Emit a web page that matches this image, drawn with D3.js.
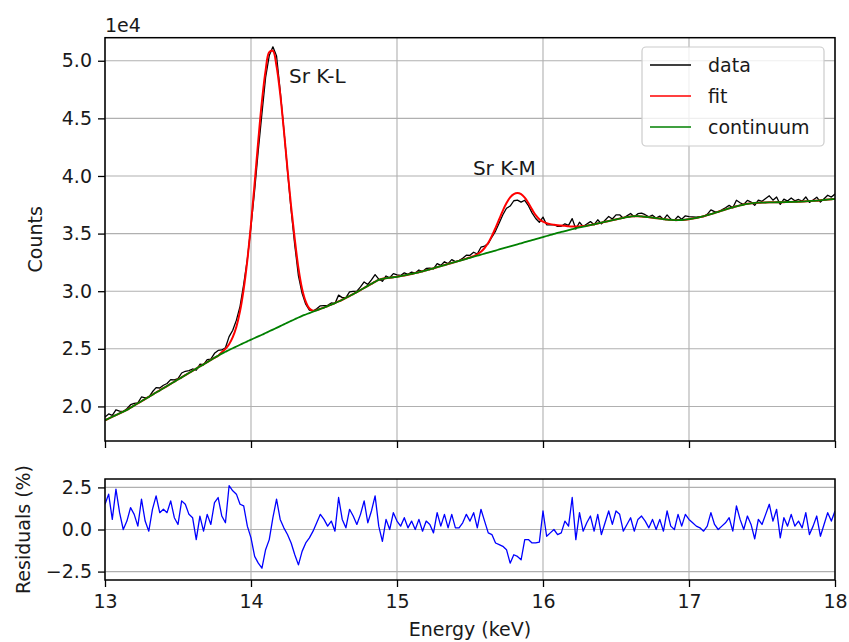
<!DOCTYPE html>
<html>
<head>
<meta charset="utf-8">
<script src="https://cdn.jsdelivr.net/npm/d3@7/dist/d3.min.js"></script>
<style>
  html, body { margin: 0; padding: 0; background: #fff; }
  svg { display: block; }
  text { font-family: "DejaVu Sans", sans-serif; fill: #1a1a1a; }
</style>
</head>
<body>
<svg id="chart" width="849" height="642"></svg>
<script>
// ---- Data (counts in units of 1e4; residuals in %) ----
const energyStart = 13.0;
const energyStep = 0.025;

const continuum = [
1.880,1.895,1.910,1.925,1.940,1.955,1.970,1.989,2.008,2.027,
2.045,2.064,2.083,2.102,2.121,2.139,2.158,2.177,2.196,2.215,
2.234,2.252,2.271,2.290,2.309,2.328,2.347,2.365,2.384,2.403,
2.422,2.440,2.458,2.474,2.490,2.505,2.520,2.535,2.550,2.565,
2.580,2.594,2.608,2.622,2.637,2.652,2.667,2.682,2.697,2.712,
2.727,2.742,2.757,2.772,2.786,2.798,2.810,2.822,2.834,2.846,
2.858,2.871,2.884,2.897,2.911,2.926,2.942,2.958,2.975,2.992,
3.010,3.028,3.046,3.064,3.082,3.098,3.108,3.113,3.117,3.121,
3.125,3.131,3.137,3.143,3.150,3.157,3.165,3.173,3.181,3.190,
3.199,3.208,3.218,3.227,3.236,3.245,3.254,3.263,3.272,3.281,
3.290,3.299,3.308,3.317,3.326,3.335,3.344,3.353,3.362,3.371,
3.380,3.389,3.398,3.407,3.416,3.425,3.434,3.443,3.452,3.461,
3.470,3.479,3.488,3.497,3.506,3.514,3.522,3.530,3.538,3.546,
3.553,3.560,3.567,3.574,3.581,3.588,3.595,3.602,3.609,3.616,
3.623,3.630,3.637,3.643,3.648,3.651,3.651,3.649,3.646,3.642,
3.638,3.634,3.630,3.626,3.622,3.619,3.617,3.617,3.618,3.621,
3.625,3.630,3.636,3.643,3.651,3.660,3.669,3.679,3.689,3.699,
3.709,3.719,3.728,3.737,3.745,3.752,3.758,3.763,3.766,3.768,
3.769,3.770,3.771,3.771,3.772,3.772,3.773,3.774,3.775,3.776,
3.777,3.778,3.780,3.782,3.784,3.786,3.789,3.792,3.795,3.798,
3.801
];

const fit = [
1.880,1.895,1.910,1.925,1.940,1.955,1.970,1.989,2.008,2.027,
2.045,2.064,2.083,2.102,2.121,2.139,2.158,2.177,2.196,2.215,
2.234,2.252,2.271,2.290,2.309,2.328,2.347,2.365,2.384,2.403,
2.422,2.440,2.470,2.499,2.540,2.601,2.692,2.827,3.018,3.270,
3.583,3.939,4.309,4.649,4.915,5.075,5.085,4.952,4.712,4.399,
4.058,3.732,3.450,3.200,3.020,2.910,2.850,2.830,2.836,2.847,
2.858,2.871,2.884,2.897,2.911,2.926,2.942,2.958,2.975,2.992,
3.010,3.028,3.046,3.064,3.082,3.098,3.108,3.113,3.117,3.121,
3.125,3.131,3.137,3.143,3.150,3.157,3.165,3.173,3.181,3.190,
3.199,3.208,3.218,3.227,3.236,3.245,3.254,3.263,3.273,3.283,
3.294,3.305,3.320,3.342,3.375,3.420,3.480,3.550,3.625,3.700,
3.765,3.815,3.843,3.852,3.842,3.812,3.765,3.710,3.660,3.625,
3.603,3.590,3.582,3.577,3.573,3.570,3.567,3.564,3.562,3.561,
3.562,3.565,3.569,3.575,3.581,3.588,3.595,3.602,3.609,3.616,
3.623,3.630,3.637,3.643,3.648,3.651,3.651,3.649,3.646,3.642,
3.638,3.634,3.630,3.626,3.622,3.619,3.617,3.617,3.618,3.621,
3.625,3.630,3.636,3.643,3.651,3.660,3.669,3.679,3.689,3.699,
3.709,3.719,3.728,3.737,3.745,3.752,3.758,3.763,3.766,3.768,
3.769,3.770,3.771,3.771,3.772,3.772,3.773,3.774,3.775,3.776,
3.777,3.778,3.780,3.782,3.784,3.786,3.789,3.792,3.795,3.798,
3.801
];

const counts = [
1.908,1.935,1.922,1.971,1.959,1.955,1.980,2.015,2.026,2.031,
2.082,2.074,2.081,2.127,2.163,2.160,2.184,2.199,2.233,2.231,
2.241,2.290,2.305,2.311,2.325,2.314,2.366,2.363,2.406,2.410,
2.461,2.486,2.490,2.509,2.606,2.661,2.749,2.869,3.060,3.277,
3.565,3.876,4.223,4.542,4.856,5.045,5.121,5.041,4.740,4.403,
4.046,3.702,3.398,3.133,2.981,2.887,2.836,2.827,2.847,2.873,
2.875,2.877,2.898,2.894,2.966,2.944,2.945,2.994,2.999,3.001,
3.037,3.080,3.058,3.098,3.144,3.104,3.086,3.132,3.117,3.152,
3.141,3.137,3.159,3.146,3.166,3.157,3.184,3.170,3.197,3.200,
3.193,3.240,3.224,3.256,3.239,3.274,3.257,3.266,3.286,3.313,
3.311,3.338,3.323,3.382,3.392,3.413,3.470,3.522,3.592,3.663,
3.720,3.739,3.785,3.790,3.773,3.789,3.742,3.680,3.631,3.598,
3.643,3.576,3.575,3.577,3.562,3.563,3.585,3.571,3.630,3.540,
3.598,3.561,3.583,3.604,3.577,3.620,3.584,3.616,3.649,3.627,
3.663,3.663,3.633,3.654,3.674,3.647,3.673,3.678,3.664,3.646,
3.660,3.634,3.652,3.622,3.662,3.626,3.617,3.650,3.625,3.654,
3.647,3.645,3.643,3.647,3.647,3.667,3.706,3.690,3.689,3.706,
3.724,3.745,3.724,3.789,3.768,3.752,3.788,3.774,3.745,3.791,
3.780,3.804,3.828,3.790,3.817,3.753,3.799,3.782,3.809,3.784,
3.796,3.782,3.818,3.771,3.792,3.816,3.774,3.803,3.833,3.817,
3.843
];

const residuals = [
1.5,2.1,0.6,2.4,1.0,0.0,0.5,1.3,0.9,0.2,
1.8,0.5,-0.1,1.2,2.0,1.0,1.2,1.0,1.7,0.7,
0.3,1.7,1.5,0.9,0.7,-0.6,0.8,-0.1,0.9,0.3,
1.6,1.9,0.8,0.4,2.6,2.3,2.1,1.5,1.4,0.2,
-0.5,-1.6,-2.0,-2.3,-1.2,-0.6,0.7,1.8,0.6,0.1,
-0.3,-0.8,-1.5,-2.1,-1.3,-0.8,-0.5,-0.1,0.4,0.9,
0.6,0.2,0.5,-0.1,1.9,0.6,0.1,1.2,0.8,0.3,
0.9,1.7,0.4,1.1,2.0,0.2,-0.7,0.6,0.0,1.0,
0.5,0.2,0.7,0.1,0.5,0.0,0.6,-0.1,0.5,0.3,
-0.2,1.0,0.2,0.9,0.1,0.9,0.1,0.1,0.4,0.9,
0.5,1.0,0.1,1.2,0.5,-0.2,-0.3,-0.8,-0.9,-1.0,
-1.2,-2.0,-1.5,-1.6,-1.8,-0.6,-0.6,-0.8,-0.8,-0.75,
1.1,-0.4,-0.2,0.0,-0.3,-0.2,0.5,0.2,1.9,-0.6,
1.0,-0.1,0.4,0.8,-0.1,0.9,-0.3,0.4,1.1,0.3,
1.1,0.9,-0.1,0.3,0.7,-0.1,0.6,0.8,0.5,0.1,
0.6,0.0,0.6,-0.1,1.1,0.2,0.0,0.9,0.2,0.9,
0.6,0.4,0.2,0.1,-0.1,0.2,1.0,0.3,0.0,0.2,
0.4,0.7,-0.1,1.4,0.6,0.0,0.8,0.3,-0.55,0.6,
0.3,0.9,1.5,0.5,1.2,-0.5,0.7,0.2,0.9,0.2,
0.5,0.1,1.0,-0.3,0.2,0.8,-0.4,0.3,1.0,0.5,
1.1
];

const xTicks = [13, 14, 15, 16, 17, 18];
const yTicksTop = [2.0, 2.5, 3.0, 3.5, 4.0, 4.5, 5.0];
const yTicksRes = [-2.5, 0.0, 2.5];
const legendLabels = ["data", "fit", "continuum"];
const peakLabels = [{ text: "Sr K-L", e: 14.26, v: 4.81 }, { text: "Sr K-M", e: 15.52, v: 4.01 }];

// ---- Layout ----
const svg = d3.select("#chart");
const L = 105, R = 835;
const topT = 37.7, topB = 441;
const resT = 479, resB = 580;
const fontSize = 19;

const energies = counts.map((_, i) => energyStart + i * energyStep);

const x = d3.scaleLinear().domain([13, 18]).range([L, R]);
const y = d3.scaleLinear().domain([1.70, 5.20]).range([topB, topT]);
const yr = d3.scaleLinear().domain([-3.0, 3.0]).range([resB, resT]);

const defs = svg.append("defs");
defs.append("clipPath").attr("id", "clipTop").append("rect")
  .attr("x", L).attr("y", topT).attr("width", R - L).attr("height", topB - topT);
defs.append("clipPath").attr("id", "clipRes").append("rect")
  .attr("x", L).attr("y", resT).attr("width", R - L).attr("height", resB - resT);

const gridColor = "#b0b0b0";

function drawGrid(yScale, yTicks, t, b) {
  const g = svg.append("g");
  g.selectAll(".gx").data(xTicks).join("line")
    .attr("x1", d => x(d)).attr("x2", d => x(d))
    .attr("y1", t).attr("y2", b)
    .attr("stroke", gridColor).attr("stroke-width", 1.1);
  g.selectAll(".gy").data(yTicks).join("line")
    .attr("x1", L).attr("x2", R)
    .attr("y1", d => yScale(d)).attr("y2", d => yScale(d))
    .attr("stroke", gridColor).attr("stroke-width", 1.1);
}
drawGrid(y, yTicksTop, topT, topB);
drawGrid(yr, yTicksRes, resT, resB);

// ---- Top panel lines ----
const lineOf = (arr, curve) => d3.line()
  .x((d, i) => x(energies[i]))
  .y(d => y(d))
  .curve(curve)(arr);

const gTop = svg.append("g").attr("clip-path", "url(#clipTop)");
gTop.append("path").attr("d", lineOf(counts, d3.curveLinear))
  .attr("fill", "none").attr("stroke", "#000").attr("stroke-width", 1.3)
  .attr("stroke-linejoin", "round");
gTop.append("path").attr("d", lineOf(fit, d3.curveCatmullRom.alpha(0.5)))
  .attr("fill", "none").attr("stroke", "#ff0000").attr("stroke-width", 2)
  .attr("stroke-linejoin", "round");
gTop.append("path").attr("d", lineOf(continuum, d3.curveMonotoneX))
  .attr("fill", "none").attr("stroke", "#008000").attr("stroke-width", 1.8)
  .attr("stroke-linejoin", "round");

// ---- Residual panel ----
const gRes = svg.append("g").attr("clip-path", "url(#clipRes)");
gRes.append("path")
  .attr("d", d3.line().x((d, i) => x(energies[i])).y(d => yr(d))(residuals))
  .attr("fill", "none").attr("stroke", "#0000ff").attr("stroke-width", 1.3)
  .attr("stroke-linejoin", "round");

// ---- Axes ----
function styleAxis(g) {
  g.selectAll("path.domain").remove();
  g.selectAll(".tick line").attr("stroke", "#000").attr("stroke-width", 1.3);
  g.selectAll(".tick text").attr("font-size", fontSize).attr("fill", "#1a1a1a")
    .attr("font-family", "DejaVu Sans, sans-serif");
}
const fmt1 = d => d3.format(".1f")(d).replace("-", "\u2212");

svg.append("g").attr("transform", `translate(${L},0)`)
  .call(d3.axisLeft(y).tickValues(yTicksTop).tickFormat(fmt1).tickSize(7).tickPadding(6))
  .call(styleAxis);
svg.append("g").attr("transform", `translate(0,${topB})`)
  .call(d3.axisBottom(x).tickValues(xTicks).tickFormat("").tickSize(7))
  .call(styleAxis);
svg.append("g").attr("transform", `translate(${L},0)`)
  .call(d3.axisLeft(yr).tickValues(yTicksRes).tickFormat(fmt1).tickSize(7).tickPadding(6))
  .call(styleAxis);
svg.append("g").attr("transform", `translate(0,${resB})`)
  .call(d3.axisBottom(x).tickValues(xTicks).tickFormat(d3.format("d")).tickSize(7).tickPadding(8))
  .call(styleAxis);

// spines
svg.append("rect").attr("x", L).attr("y", topT).attr("width", R - L).attr("height", topB - topT)
  .attr("fill", "none").attr("stroke", "#000").attr("stroke-width", 1.5);
svg.append("rect").attr("x", L).attr("y", resT).attr("width", R - L).attr("height", resB - resT)
  .attr("fill", "none").attr("stroke", "#000").attr("stroke-width", 1.5);

// ---- Labels ----
svg.append("text").attr("x", L).attr("y", 32).attr("font-size", fontSize).text("1e4");
svg.append("text")
  .attr("transform", `translate(42,${(topT + topB) / 2}) rotate(-90)`)
  .attr("text-anchor", "middle").attr("font-size", fontSize).text("Counts");
svg.append("text")
  .attr("transform", `translate(30,${(resT + resB) / 2}) rotate(-90)`)
  .attr("text-anchor", "middle").attr("font-size", fontSize).text("Residuals (%)");
svg.append("text").attr("x", (L + R) / 2).attr("y", 636)
  .attr("text-anchor", "middle").attr("font-size", fontSize).text("Energy (keV)");

// peak annotations
svg.selectAll(".peak").data(peakLabels).join("text")
  .attr("x", d => x(d.e)).attr("y", d => y(d.v))
  .attr("font-family", "Lato, 'Open Sans', sans-serif")
  .attr("font-size", 20).attr("fill", "#000")
  .text(d => d.text);

// ---- Legend ----
const lg = svg.append("g");
lg.append("rect").attr("x", 642).attr("y", 47).attr("width", 182).attr("height", 99)
  .attr("rx", 4).attr("fill", "#fff").attr("fill-opacity", 0.8)
  .attr("stroke", "#cccccc").attr("stroke-width", 1.2);
const legendColors = ["#000", "#ff0000", "#008000"];
const rowY = [65, 96, 127];
legendLabels.forEach((lab, i) => {
  lg.append("line").attr("x1", 650).attr("x2", 691).attr("y1", rowY[i]).attr("y2", rowY[i])
    .attr("stroke", legendColors[i]).attr("stroke-width", 1.6);
  lg.append("text").attr("x", 708).attr("y", rowY[i] + 7)
    .attr("font-size", fontSize).text(lab);
});
</script>
</body>
</html>
